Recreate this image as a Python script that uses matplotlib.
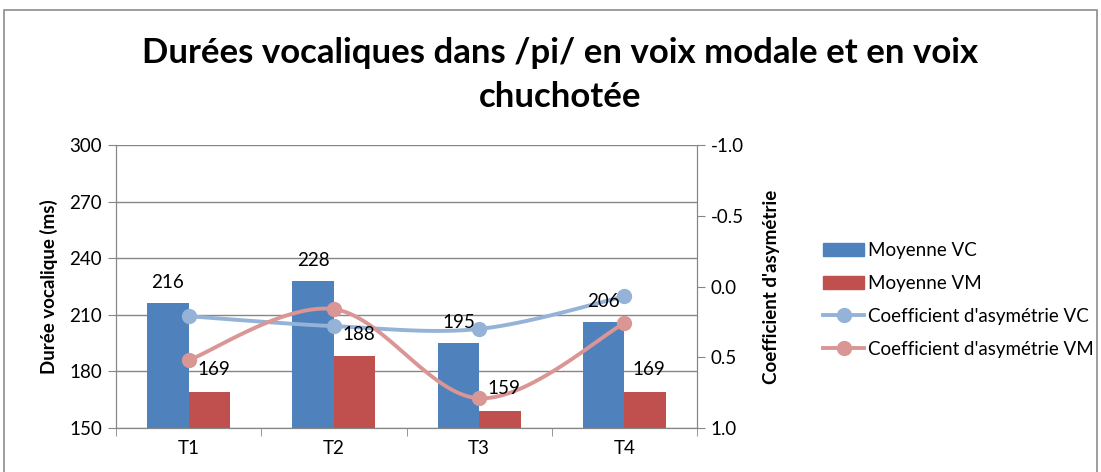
import numpy as np
import matplotlib
matplotlib.use('Agg')
from matplotlib import pyplot as plt
from matplotlib.patches import Rectangle, Patch
from matplotlib.lines import Line2D
from matplotlib.ticker import FormatStrFormatter

plt.rcParams['font.family'] = ['Lato', 'DejaVu Sans']

categories = ['T1', 'T2', 'T3', 'T4']
moyenne_vc = [216, 228, 195, 206]
moyenne_vm = [169, 188, 159, 169]
coef_vc = [0.21, 0.28, 0.30, 0.07]
coef_vm = [0.52, 0.16, 0.79, 0.26]

blue = '#4F81BD'
red = '#C0504D'
light_blue = '#95B3D7'
light_red = '#D99694'
grid_gray = '#868686'
fs = 13.5


def smooth(xs, ys, n=40):
  # Excel-like smoothing: Catmull-Rom converted to cubic bezier
  xs = np.asarray(xs, float)
  ys = np.asarray(ys, float)
  px, py = [], []
  m = len(xs)
  t = np.linspace(0, 1, n)
  for i in range(m - 1):
    i0 = max(i - 1, 0)
    i3 = min(i + 2, m - 1)
    p0 = np.array([xs[i], ys[i]])
    p3 = np.array([xs[i + 1], ys[i + 1]])
    c1 = p0 + (p3 - np.array([xs[i0], ys[i0]])) / 6
    c2 = p3 - (np.array([xs[i3], ys[i3]]) - p0) / 6
    b = ((1 - t) ** 3)[:, None] * p0 + (3 * (1 - t) ** 2 * t)[:, None] * c1 \
      + (3 * (1 - t) * t ** 2)[:, None] * c2 + (t ** 3)[:, None] * p3
    px.extend(b[:, 0])
    py.extend(b[:, 1])
  return px, py


fig = plt.figure(figsize=(11.01, 4.72), dpi=100)
fig.patches.append(Rectangle((4 / 1101, -0.02), 1093 / 1101, 1 - 10 / 472 + 0.02,
                             transform=fig.transFigure, fill=False,
                             edgecolor='#8c8c8c', linewidth=1.2))

ax = fig.add_axes([116 / 1101, 44 / 472, 581 / 1101, 283 / 472])
x = np.arange(len(categories))
w = 0.285
ax.bar(x - w / 2, moyenne_vc, w, color=blue, zorder=2)
ax.bar(x + w / 2, moyenne_vm, w, color=red, zorder=2)
ax.set_ylim(150, 300)
ax.set_yticks(range(150, 301, 30))
ax.set_xlim(-0.5, len(categories) - 0.5)
ax.set_xticks(x)
ax.set_xticklabels(categories)
ax.set_xticks(np.arange(-0.5, len(categories), 1), minor=True)
ax.tick_params(axis='x', which='major', length=0, pad=9, labelsize=fs)
ax.tick_params(axis='x', which='minor', length=6, color=grid_gray, direction='out')
ax.tick_params(axis='y', length=6, color=grid_gray, labelsize=fs, pad=4)
ax.grid(axis='y', color=grid_gray, linewidth=1, zorder=0)
for s in ax.spines.values():
  s.set_color(grid_gray)
ax.spines['top'].set_visible(False)
ax.set_ylabel('Durée vocalique (ms)', fontsize=fs, fontweight='bold')
ax.yaxis.set_label_coords(-58 / 581, 0.5)

ax2 = ax.twinx()
ax2.set_ylim(1.0, -1.0)
ax2.set_yticks([-1.0, -0.5, 0.0, 0.5, 1.0])
ax2.yaxis.set_major_formatter(FormatStrFormatter('%.1f'))
ax2.tick_params(axis='y', length=6, color=grid_gray, labelsize=fs, pad=4)
for s in ax2.spines.values():
  s.set_color(grid_gray)
ax2.spines['top'].set_visible(False)
ax2.set_ylabel("Coefficient d'asymétrie", fontsize=fs, fontweight='bold')
ax2.yaxis.set_label_coords(1 + 66 / 581, 0.5)

sx, sy = smooth(x, coef_vc)
ax2.plot(sx, sy, color=light_blue, linewidth=2.8, solid_capstyle='round')
ax2.plot(x, coef_vc, 'o', color=light_blue, markersize=10)
sx, sy = smooth(x, coef_vm)
ax2.plot(sx, sy, color=light_red, linewidth=2.8, solid_capstyle='round')
ax2.plot(x, coef_vm, 'o', color=light_red, markersize=10)

for xi, v in zip(x, moyenne_vc):
  ax2.annotate(str(v), (xi - w / 2, v), xycoords=ax.transData,
               xytext=(0, 15), textcoords='offset points',
               ha='center', va='center', fontsize=fs)
for xi, v in zip(x, moyenne_vm):
  ax2.annotate(str(v), (xi + w / 2, v), xycoords=ax.transData,
               xytext=(3, 16), textcoords='offset points',
               ha='center', va='center', fontsize=fs)

fig.text(0.509, 1 - 75 / 472,
         'Durées vocaliques dans /pi/ en voix modale et en voix\nchuchotée',
         ha='center', va='center', fontsize=25, fontweight='bold',
         linespacing=1.45)

handles = [
  Patch(color=blue),
  Patch(color=red),
  Line2D([], [], color=light_blue, linewidth=2.8, marker='o', markersize=10),
  Line2D([], [], color=light_red, linewidth=2.8, marker='o', markersize=10),
]
labels = ['Moyenne VC', 'Moyenne VM', "Coefficient d'asymétrie VC",
          "Coefficient d'asymétrie VM"]
fig.legend(handles, labels, loc='center left',
           bbox_to_anchor=(806 / 1101, 1 - 300 / 472), frameon=False,
           fontsize=fs, handlelength=2.2, handleheight=0.7,
           labelspacing=0.85, handletextpad=0.2)

fig.savefig('out.png', dpi=100)
